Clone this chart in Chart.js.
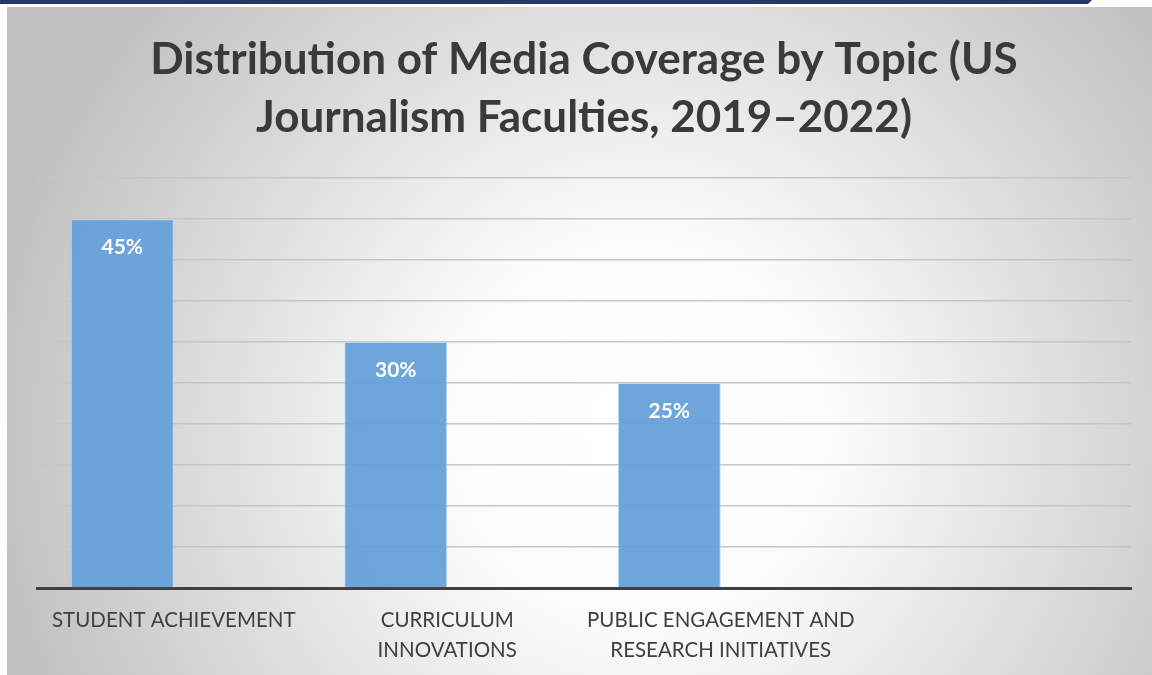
<!DOCTYPE html>
<html>
<head>
<meta charset="utf-8">
<script src="https://cdn.jsdelivr.net/npm/chart.js@4.4.1/dist/chart.umd.min.js"></script>
<style>
  html, body { margin: 0; padding: 0; background: #ffffff; }
  #wrap { width: 1152px; height: 675px; position: relative; }
</style>
</head>
<body>
<div id="wrap"><canvas id="chart"></canvas></div>
<script>
const titleLines = ["Distribution of Media Coverage by Topic (US", "Journalism Faculties, 2019\u20132022)"]
const categories = [
  ["STUDENT ACHIEVEMENT"],
  ["CURRICULUM", "INNOVATIONS"],
  ["PUBLIC ENGAGEMENT AND", "RESEARCH INITIATIVES"],
  ""
]
const coverageShare = [45, 30, 25, null]
const emptySeries = [null, null, null, null]
const yTicks = { min: 0, max: 50, step: 5 }

const FONT = "Lato, 'Open Sans', sans-serif"

// panel background: white page, navy strip, radial grey gradient
const backdrop = {
  id: "backdrop",
  beforeDraw(chart) {
    const { ctx, width, height } = chart
    ctx.save()
    ctx.fillStyle = "#ffffff"
    ctx.fillRect(0, 0, width, height)

    ctx.fillStyle = "#213a66"
    ctx.beginPath()
    ctx.moveTo(0, 0)
    ctx.lineTo(1092, 0)
    ctx.lineTo(1088, 4)
    ctx.lineTo(0, 4)
    ctx.closePath()
    ctx.fill()

    const g = ctx.createRadialGradient(640, 430, 0, 640, 430, 660)
    g.addColorStop(0, "#ffffff")
    g.addColorStop(0.3, "#fbfbfb")
    g.addColorStop(1, "#c0c0c0")
    ctx.fillStyle = g
    ctx.fillRect(7, 7, width - 7, height - 7)
    ctx.restore()
  }
}

const valueLabels = {
  id: "valueLabels",
  afterDatasetsDraw(chart) {
    const { ctx } = chart
    const meta = chart.getDatasetMeta(0)
    ctx.save()
    ctx.fillStyle = "#ffffff"
    ctx.font = `bold 21px ${FONT}`
    ctx.textAlign = "center"
    ctx.textBaseline = "middle"
    meta.data.forEach((bar, i) => {
      const v = coverageShare[i]
      if (v == null) return
      ctx.fillText(`${v}%`, bar.x, bar.y + 28)
    })
    ctx.restore()
  }
}

new Chart(document.getElementById("chart"), {
  type: "bar",
  data: {
    labels: categories,
    datasets: [
      {
        data: coverageShare,
        backgroundColor: "rgba(102, 160, 216, 0.95)",
        borderColor: "rgba(190, 215, 240, 0.9)",
        borderWidth: 1,
        categoryPercentage: 0.753,
        barPercentage: 1
      },
      {
        data: emptySeries,
        backgroundColor: "rgba(0,0,0,0)",
        categoryPercentage: 0.753,
        barPercentage: 1
      }
    ]
  },
  options: {
    responsive: true,
    maintainAspectRatio: false,
    animation: false,
    layout: {
      padding: { left: 37, right: 21, top: 0, bottom: 0 }
    },
    plugins: {
      legend: { display: false },
      tooltip: { enabled: false },
      title: {
        display: true,
        text: titleLines,
        color: "#3a3a3a",
        font: { family: FONT, size: 44, weight: "bold", lineHeight: 1.32 },
        padding: { top: 31, bottom: 31 }
      }
    },
    scales: {
      x: {
        afterFit: (scale) => { scale.height = 87 },
        grid: { display: false },
        border: { display: true, color: "#404040", width: 3 },
        ticks: {
          color: "#404040",
          padding: 10,
          maxRotation: 0,
          autoSkip: false,
          font: { family: FONT, size: 20.5, lineHeight: 1.43 }
        }
      },
      y: {
        min: yTicks.min,
        max: yTicks.max,
        ticks: { display: false, stepSize: yTicks.step },
        grid: { color: "#c6c6c6", lineWidth: 1.5, drawTicks: false },
        border: { display: false }
      }
    }
  },
  plugins: [backdrop, valueLabels]
})
</script>
</body>
</html>
